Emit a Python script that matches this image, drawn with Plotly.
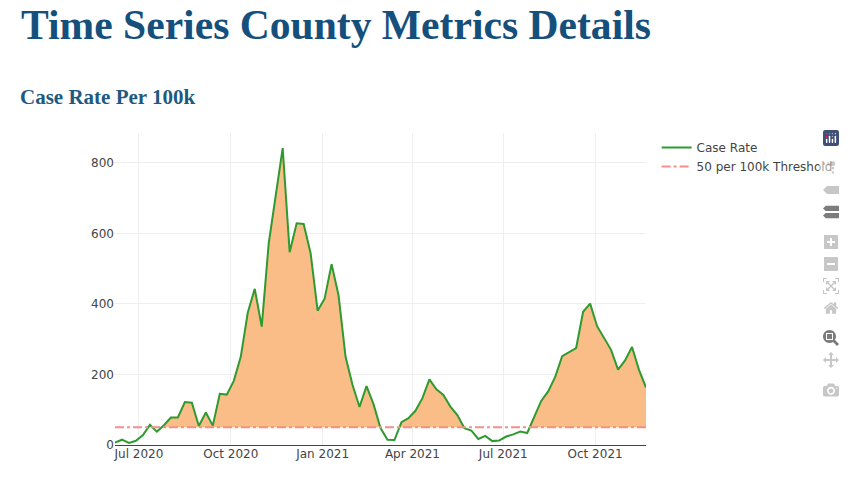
import plotly.graph_objects as go
import pandas as pd

title_text = "Time Series County Metrics Details"
subtitle_text = "Case Rate Per 100k"
start_date = "2020-06-07"
case_rate = [7, 15, 6, 12, 28, 57, 38, 56, 78, 78, 122, 120, 54, 92, 55, 145, 143, 182, 250, 375,
             443, 336, 572, 714, 842, 547, 629, 627, 544, 381, 415, 513, 424, 250, 170, 108, 167, 116, 48,
             15, 14, 65, 76, 97, 133, 186, 158, 142, 109, 85, 48, 41, 17, 26, 11, 13, 24, 30, 38, 34,
             81, 125, 152, 193, 252, 263, 275, 378, 401, 337, 304, 270, 214, 240, 278, 213, 163]
threshold_value = 50
y_ticks = [0, 200, 400, 600, 800]
x_ticks = ["2020-07-01", "2020-10-01", "2021-01-01", "2021-04-01", "2021-07-01", "2021-10-01"]
x_tick_labels = ["Jul 2020", "Oct 2020", "Jan 2021", "Apr 2021", "Jul 2021", "Oct 2021"]

dates = pd.date_range(start_date, periods=len(case_rate), freq="7D")

# Upper edge of the shaded band: the case rate where it exceeds the threshold,
# with the exact crossing instants added so the shading follows the line.
band_x, band_y = [], []
for i, (d, v) in enumerate(zip(dates, case_rate)):
    if i:
        p, pd0 = case_rate[i - 1], dates[i - 1]
        if (p - threshold_value) * (v - threshold_value) < 0:
            band_x.append(pd0 + (d - pd0) * ((threshold_value - p) / (v - p)))
            band_y.append(threshold_value)
    band_x.append(d)
    band_y.append(max(v, threshold_value))

fig = go.Figure()
fig.add_trace(go.Scatter(x=band_x, y=[threshold_value] * len(band_x), mode="lines",
                         line=dict(width=0), showlegend=False, hoverinfo="skip"))
fig.add_trace(go.Scatter(x=band_x, y=band_y, mode="lines", fill="tonexty",
                         fillcolor="rgb(250,189,135)", line=dict(width=0),
                         showlegend=False, hoverinfo="skip"))
fig.add_trace(go.Scatter(x=dates, y=case_rate, mode="lines", name="Case Rate",
                         line=dict(color="#2f9a2f", width=2)))
fig.add_trace(go.Scatter(x=dates, y=[threshold_value] * len(dates), mode="lines",
                         name="50 per 100k Threshold",
                         line=dict(color="#f58f88", width=2, dash="dashdot")))

fig.update_layout(
    width=850, height=486,
    margin=dict(l=115, r=204, t=133, b=41),
    paper_bgcolor="white", plot_bgcolor="white",
    font=dict(family="DejaVu Sans, Verdana, sans-serif", size=12, color="#444"),
    hovermode="x",
    legend=dict(x=1.02, y=1, xanchor="left", yanchor="top", font=dict(size=12), traceorder="normal"),
    xaxis=dict(range=[dates[0], dates[-1]], tickvals=x_ticks, ticktext=x_tick_labels,
               showgrid=True, gridcolor="#eee", zeroline=False, showline=False, ticks=""),
    yaxis=dict(range=[0, 885], tickvals=y_ticks, showgrid=True, gridcolor="#eee",
               zeroline=True, zerolinecolor="#444", zerolinewidth=1, showline=False, ticks=""),
    annotations=[
        dict(text=f"<b>{title_text}</b>", xref="paper", yref="paper", x=-115 / 531, y=1 + (133 - 25) / 312,
             xanchor="left", yanchor="middle", xshift=19, showarrow=False,
             font=dict(family="Liberation Serif, serif", size=41.6, color="#15507c")),
        dict(text=f"<b>{subtitle_text}</b>", xref="paper", yref="paper", x=-115 / 531, y=1 + (133 - 97) / 312,
             xanchor="left", yanchor="middle", xshift=18, showarrow=False,
             font=dict(family="Liberation Serif, serif", size=21, color="#1d5a80")),
    ],
    modebar=dict(orientation="v"),
)

fig.write_html(
    "out.html",
    config=dict(displayModeBar=True, displaylogo=True,
                modeBarButtons=[["toImage"], ["zoom2d", "pan2d"],
                                ["zoomIn2d", "zoomOut2d", "autoScale2d", "resetScale2d"],
                                ["toggleSpikelines", "hoverClosestCartesian", "hoverCompareCartesian"]]),
    post_script=(
        "document.body.style.margin='0';"
        "document.querySelectorAll('.modebar-container').forEach(function(e){e.style.top='126px';e.style.right='5px';});"
        "document.querySelectorAll('.modebar-btn--logo').forEach(function(e){"
        "e.style.background='transparent';"
        "var r=e.querySelector('rect');if(r){r.style.fill='#3f4f75';}});"
    ),
)
